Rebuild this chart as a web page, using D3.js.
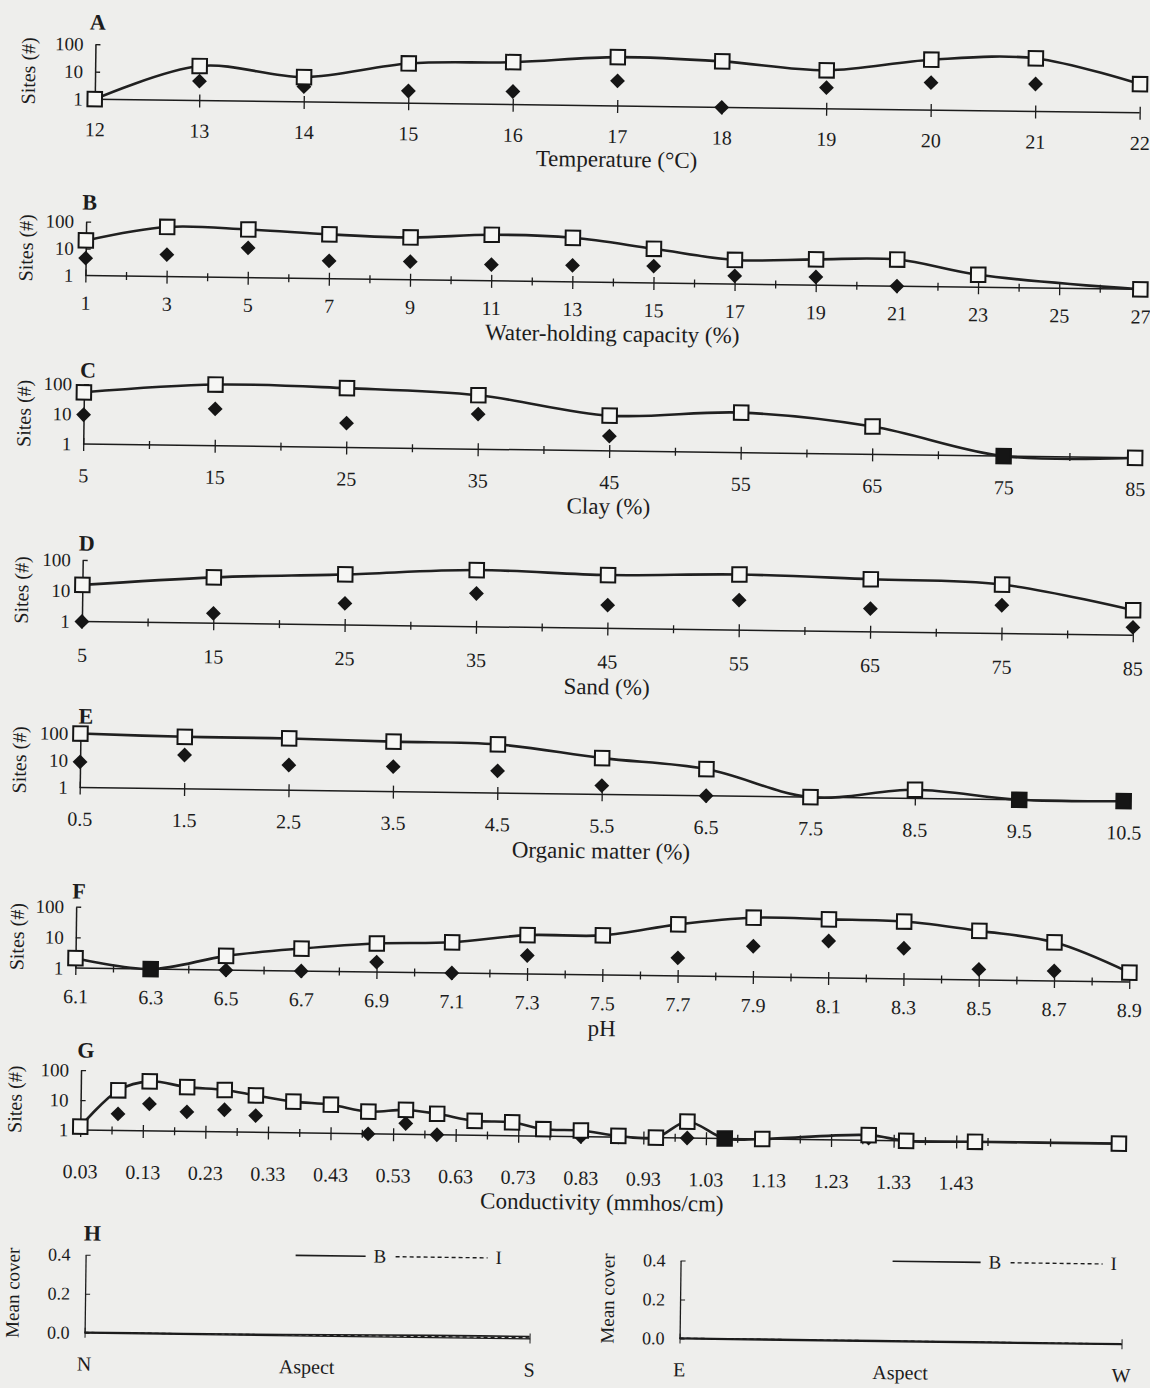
<!DOCTYPE html>
<html>
<head>
<meta charset="utf-8">
<script src="https://cdn.jsdelivr.net/npm/d3@7"></script>
<style>
  body { margin: 0; background: #eeeeec; }
  svg { display: block; }
  text { font-family: "Liberation Serif", "Times New Roman", serif; fill: #1c1c1c; }
</style>
</head>
<body>
<svg id="fig" width="1150" height="1388"></svg>
<script>
// ---- data: sites sampled (squares) and sites where the plant was found (diamonds)
const tempX = [12, 13, 14, 15, 16, 17, 18, 19, 20, 21, 22];
const tempSampled = [1, 18, 8, 28, 35, 60, 47, 25, 68, 85, 11];
const tempPresent = [null, 5.1, 3.6, 2.8, 3.0, 8.2, 1, 5.9, 10, 10, null];

const waterX = [1, 3, 5, 7, 9, 11, 13, 15, 17, 19, 21, 23, 25, 27];
const waterSampled = [20, 69, 61, 44, 37, 51, 43, 18.5, 7.8, 9, 9.7, 2.9, null, 1];
const waterPresent = [4.4, 6.5, 12.7, 4.6, 4.7, 4.0, 4.1, 4.2, 2.0, 2.0, 1, null, null, null];

const clayX = [5, 15, 25, 35, 45, 55, 65, 75, 85];
const claySampled = [53, 110, 95, 63, 15, 21.6, 8.5, 1, 1];
const clayPresent = [9.5, 17, 6.5, 14.7, 3.1, null, null, 1, null];

const sandX = [5, 15, 25, 35, 45, 55, 65, 75, 85];
const sandSampled = [15.5, 31, 44, 69, 54, 64, 51, 39, 6.5];
const sandPresent = [1, 2.1, 5.0, 12, 5.7, 9.4, 5.7, 8.3, 1.8];

const omX = [0.5, 1.5, 2.5, 3.5, 4.5, 5.5, 6.5, 7.5, 8.5, 9.5, 10.5];
const omSampled = [100, 85, 83, 71, 63, 22, 9.7, 1, 2.1, 1, 1];
const omPresent = [8.9, 18, 8.6, 8.4, 6.6, 2.1, 1, null, null, 1, 1];

const phX = [6.1, 6.3, 6.5, 6.7, 6.9, 7.1, 7.3, 7.5, 7.7, 7.9, 8.1, 8.3, 8.5, 8.7, 8.9];
const phSampled = [2.1, 1, 2.9, 5.4, 8.5, 10, 18.5, 19.5, 48, 85, 81, 74, 39.5, 18, 2.0];
const phPresent = [null, 1, 1, 1, 2.1, 1, 4.0, null, 3.9, 10, 16, 10, 2.2, 2.1, null];

const condX = [0.03, 0.09, 0.14, 0.2, 0.26, 0.31, 0.37, 0.43, 0.49, 0.55, 0.6, 0.66,
               0.72, 0.77, 0.83, 0.89, 0.95, 1.0, 1.06, 1.12, 1.29, 1.35, 1.46, 1.69];
const condSampled = [1.3, 22, 45, 30, 25, 17, 11, 9, 5.5, 6.5, 5, 3,
                     2.8, 1.7, 1.6, 1.1, 1, 3.5, 1, 1, 1.5, 1, 1, 1];
const condPresent = [null, 3.6, 8, 4.5, 5.5, 3.6, null, null, 1, 2.3, 1, null,
                     null, null, 1, 1, null, 1, 1, null, 1.2, null, null, null];

// tick labels
const tempTicks = [12, 13, 14, 15, 16, 17, 18, 19, 20, 21, 22];
const waterTicks = [1, 3, 5, 7, 9, 11, 13, 15, 17, 19, 21, 23, 25, 27];
const waterMinor = [2, 4, 6, 8, 10, 12, 14, 16, 18, 20, 22, 24, 26];
const pctTicks = [5, 15, 25, 35, 45, 55, 65, 75, 85];
const pctMinor = [10, 20, 30, 40, 50, 60, 70, 80];
const omTicks = [0.5, 1.5, 2.5, 3.5, 4.5, 5.5, 6.5, 7.5, 8.5, 9.5, 10.5];
const phTicks = [6.1, 6.3, 6.5, 6.7, 6.9, 7.1, 7.3, 7.5, 7.7, 7.9, 8.1, 8.3, 8.5, 8.7, 8.9];
const phMinor = [6.2, 6.4, 6.6, 6.8, 7.0, 7.2, 7.4, 7.6, 7.8, 8.0, 8.2, 8.4, 8.6, 8.8];
const condTicks = [0.03, 0.13, 0.23, 0.33, 0.43, 0.53, 0.63, 0.73, 0.83, 0.93, 1.03, 1.13, 1.23, 1.33, 1.43];
const condMinor = [0.08, 0.18, 0.28, 0.38, 0.48, 0.58, 0.68, 0.78, 0.88, 0.98, 1.08, 1.18, 1.28, 1.38, 1.48, 1.58, 1.68];
const siteTicks = [1, 10, 100];

// panel H: mean cover by aspect
const nsAspect = [0, 20, 40, 60, 80, 100, 120, 140, 160, 180];
const nsB = [0.002, 0.002, 0.002, 0.003, 0.004, 0.006, 0.008, 0.009, 0.010, 0.010];
const nsI = [0.001, 0.001, 0.001, 0.001, 0.002, 0.002, 0.003, 0.003, 0.003, 0.003];
const ewAspect = [90, 110, 130, 150, 170, 190, 210, 230, 250, 270];
const ewB = [0.002, 0.002, 0.002, 0.002, 0.002, 0.002, 0.002, 0.002, 0.002, 0.002];
const ewI = [0.001, 0.001, 0.001, 0.001, 0.001, 0.001, 0.001, 0.001, 0.001, 0.001];
const coverTicks = [0, 0.2, 0.4];

const svg = d3.select("#fig");
const root = svg.append("g").attr("transform", "rotate(0.75 575 694)");
const ink = "#1c1c1c";

function zip(xs, vs) {
  return xs.map((x, i) => ({x: x, v: vs[i]})).filter(d => d.v != null);
}

function sitesPanel(p) {
  const g = root.append("g");
  const x = d3.scaleLinear().domain(p.domain).range([p.x0, p.x1]);
  const y = d3.scaleLog().domain([1, 100]).range([p.base, p.base - 2 * p.dec]);
  const fmt = p.fmt || (d => d);

  // minor ticks
  if (p.minor) {
    g.append("g").attr("transform", `translate(0,${p.base})`)
      .call(d3.axisBottom(x).tickValues(p.minor).tickFormat("").tickSize(4).tickSizeOuter(0))
      .call(a => a.select(".domain").remove())
      .call(a => a.selectAll("line").attr("y1", -4).attr("stroke", ink).attr("stroke-width", 1.3));
  }
  const xa = g.append("g").attr("transform", `translate(0,${p.base})`)
    .call(d3.axisBottom(x).tickValues(p.ticks).tickFormat(fmt).tickSize(7).tickSizeOuter(0).tickPadding(p.pad));
  xa.select(".domain").attr("stroke", ink).attr("stroke-width", 1.5)
    .attr("d", `M${p.x0},0H${p.x1}`);
  xa.selectAll("line").attr("y1", -6).attr("stroke", ink).attr("stroke-width", 1.3);
  xa.selectAll("text").attr("font-size", 20).attr("fill", ink)
    .style("font-family", "Liberation Serif");

  const ya = g.append("g").attr("transform", `translate(${p.x0},0)`)
    .call(d3.axisLeft(y).tickValues(siteTicks).tickFormat(d3.format("d")).tickSize(5).tickSizeOuter(0).tickPadding(7));
  ya.select(".domain").attr("stroke", ink).attr("stroke-width", 1.5);
  ya.selectAll("line").attr("x2", 5).attr("stroke", ink).attr("stroke-width", 1.3);
  ya.selectAll(".tick").filter(d => d === 1).select("line").remove();
  ya.selectAll("text").attr("font-size", 19).attr("fill", ink)
    .style("font-family", "Liberation Serif");

  g.append("text").attr("x", p.lx).attr("y", p.ly).attr("font-size", 22)
    .attr("font-weight", "bold").text(p.letter);
  g.append("text").attr("transform", `translate(27,${y(10)}) rotate(-90)`)
    .attr("text-anchor", "middle").attr("font-size", 20).text("Sites (#)");
  g.append("text").attr("x", (p.x0 + p.x1) / 2).attr("y", p.base + p.ty)
    .attr("text-anchor", "middle").attr("font-size", 23).text(p.title);

  const sampled = zip(p.xs, p.sampled);
  const present = zip(p.xs, p.present);
  const line = d3.line().x(d => x(d.x)).y(d => y(d.v)).curve(d3.curveCatmullRom.alpha(0.5));
  g.append("path").datum(sampled).attr("d", line)
    .attr("fill", "none").attr("stroke", "#202020").attr("stroke-width", 2.6);

  // a diamond sitting on its square shows as a filled square
  const both = new Set(present.filter(d => sampled.some(s => s.x === d.x && s.v === d.v)).map(d => d.x));
  g.selectAll(".dia").data(present.filter(d => !both.has(d.x))).join("path")
    .attr("d", d3.symbol(d3.symbolSquare, 110))
    .attr("transform", d => `translate(${x(d.x)},${y(d.v)}) rotate(45)`)
    .attr("fill", "#151515");
  g.selectAll(".sq").data(sampled).join("path")
    .attr("d", d3.symbol(d3.symbolSquare, 210))
    .attr("transform", d => `translate(${x(d.x)},${y(d.v)})`)
    .attr("fill", d => both.has(d.x) ? "#151515" : "#f6f6f4")
    .attr("stroke", "#151515").attr("stroke-width", 2);
}

sitesPanel({letter: "A", lx: 81, ly: 36, x0: 87, x1: 1132, base: 105.5, dec: 27.5, domain: [12, 22],
  ticks: tempTicks, pad: 16, ty: 61, title: "Temperature (°C)",
  xs: tempX, sampled: tempSampled, present: tempPresent});
sitesPanel({letter: "B", lx: 76, ly: 216, x0: 80, x1: 1135, base: 282, dec: 27, domain: [1, 27],
  ticks: waterTicks, minor: waterMinor, pad: 13, ty: 59, title: "Water-holding capacity (%)",
  xs: waterX, sampled: waterSampled, present: waterPresent});
sitesPanel({letter: "C", lx: 76, ly: 384, x0: 80, x1: 1132, base: 450.5, dec: 30, domain: [5, 85],
  ticks: pctTicks, minor: pctMinor, pad: 17, ty: 63, title: "Clay (%)",
  xs: clayX, sampled: claySampled, present: clayPresent});
sitesPanel({letter: "D", lx: 77, ly: 557, x0: 81, x1: 1132, base: 628, dec: 30.8, domain: [5, 85],
  ticks: pctTicks, minor: pctMinor, pad: 19, ty: 66, title: "Sand (%)",
  xs: sandX, sampled: sandSampled, present: sandPresent});
sitesPanel({letter: "E", lx: 79, ly: 730, x0: 81, x1: 1125, base: 794, dec: 27, domain: [0.5, 10.5],
  ticks: omTicks, pad: 17, ty: 64, title: "Organic matter (%)", fmt: d3.format(".1f"),
  xs: omX, sampled: omSampled, present: omPresent});
sitesPanel({letter: "F", lx: 75, ly: 905, x0: 79, x1: 1133, base: 974.6, dec: 30.7, domain: [6.1, 8.9],
  ticks: phTicks, minor: phMinor, pad: 14, ty: 61, title: "pH", fmt: d3.format(".1f"),
  xs: phX, sampled: phSampled, present: phPresent});
sitesPanel({letter: "G", lx: 82, ly: 1064, x0: 86, x1: 1131, base: 1136.5, dec: 30, domain: [0.03, 1.7],
  ticks: condTicks, minor: condMinor, pad: 27, ty: 73, title: "Conductivity (mmhos/cm)", fmt: d3.format(".2f"),
  xs: condX, sampled: condSampled, present: condPresent});

// ---- panel H
function coverPanel(p) {
  const g = root.append("g");
  const x = d3.scaleLinear().domain(p.domain).range([p.x0, p.x1]);
  const y = d3.scaleLinear().domain([0, 0.4]).range([p.base, p.base - 78]);
  const xa = g.append("g").attr("transform", `translate(0,${p.base})`)
    .call(d3.axisBottom(x).tickValues(p.domain).tickFormat("").tickSize(5).tickSizeOuter(0));
  xa.select(".domain").attr("stroke", ink).attr("stroke-width", 1.3);
  xa.selectAll("line").attr("y1", -5).attr("stroke", ink);
  const ya = g.append("g").attr("transform", `translate(${p.x0},0)`)
    .call(d3.axisLeft(y).tickValues(coverTicks).tickFormat(d3.format(".1f")).tickSize(5).tickSizeOuter(0).tickPadding(10));
  ya.select(".domain").attr("stroke", ink).attr("stroke-width", 1.3);
  ya.selectAll("line").attr("x2", 5).attr("stroke", ink);
  ya.selectAll("text").attr("font-size", 18).attr("fill", ink).style("font-family", "Liberation Serif");
  g.append("text").attr("transform", `translate(${p.x0 - 66},${y(0.2)}) rotate(-90)`)
    .attr("text-anchor", "middle").attr("font-size", 19).text("Mean cover");
  g.append("text").attr("x", p.x0).attr("y", p.base + 38).attr("text-anchor", "middle")
    .attr("font-size", 20).text(p.left);
  g.append("text").attr("x", p.x1).attr("y", p.base + 38).attr("text-anchor", "middle")
    .attr("font-size", 20).text(p.right);
  g.append("text").attr("x", (p.x0 + p.x1) / 2).attr("y", p.base + 38).attr("text-anchor", "middle")
    .attr("font-size", 20).text("Aspect");
  if (p.letter) g.append("text").attr("x", p.x0 - 2).attr("y", p.base - 92)
    .attr("font-size", 22).attr("font-weight", "bold").text(p.letter);

  const line = d3.line().x(d => x(d.x)).y(d => y(d.v));
  g.append("path").datum(zip(p.xs, p.b)).attr("d", line)
    .attr("fill", "none").attr("stroke", ink).attr("stroke-width", 1.6);
  g.append("path").datum(zip(p.xs, p.i)).attr("d", line)
    .attr("fill", "none").attr("stroke", ink).attr("stroke-width", 1.4).attr("stroke-dasharray", "4,3");

  // legend
  const ly = p.base - 80;
  const s = p.lgLen;
  g.append("line").attr("x1", p.lg).attr("x2", p.lg + s).attr("y1", ly).attr("y2", ly)
    .attr("stroke", ink).attr("stroke-width", 1.6);
  g.append("text").attr("x", p.lg + s + 8).attr("y", ly + 6).attr("font-size", 19).text("B");
  g.append("line").attr("x1", p.lg + s + 30).attr("x2", p.lg + s + 122).attr("y1", ly).attr("y2", ly)
    .attr("stroke", ink).attr("stroke-width", 1.4).attr("stroke-dasharray", "4,3");
  g.append("text").attr("x", p.lg + s + 130).attr("y", ly + 6).attr("font-size", 19).text("I");
}

coverPanel({letter: "H", x0: 93, x1: 538, base: 1339, domain: [0, 180], left: "N", right: "S",
  lg: 303, lgLen: 70, xs: nsAspect, b: nsB, i: nsI});
coverPanel({x0: 688, x1: 1130, base: 1337, domain: [90, 270], left: "E", right: "W",
  lg: 900, lgLen: 88, xs: ewAspect, b: ewB, i: ewI});
</script>
</body>
</html>
